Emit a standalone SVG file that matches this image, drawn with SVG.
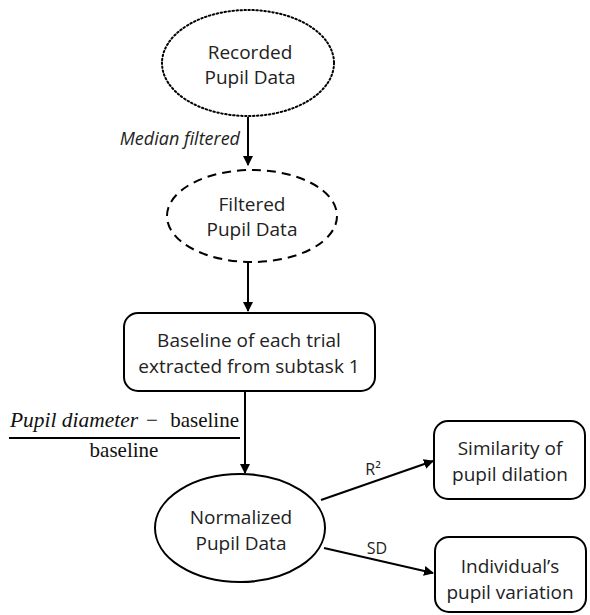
<svg xmlns="http://www.w3.org/2000/svg" width="590" height="615" viewBox="0 0 590 615">
<style>
.n{fill:#fff;stroke:#000;stroke-width:2}
.t{font-family:"Open Sans","Liberation Sans",Arial,sans-serif;font-size:19px;fill:#222;text-anchor:middle}
.c{stroke:#000;stroke-width:2;fill:none}
.l{font-family:"Open Sans","Liberation Sans",Arial,sans-serif;font-size:16px;fill:#222}
.m{font-family:"Liberation Serif","Times New Roman",serif;font-size:21px;fill:#111}
</style>
<defs>
<marker id="ah" viewBox="0 0 10 10" refX="9" refY="5" markerWidth="5" markerHeight="5" orient="auto-start-reverse">
<path d="M0,0 L10,5 L0,10 z" fill="#000"/>
</marker>
</defs>
<rect width="590" height="615" fill="#fff"/>
<g id="connectors">
<line class="c" x1="248" y1="117" x2="248" y2="165" marker-end="url(#ah)"/>
<text class="l" x="240" y="145" text-anchor="end" style="font-style:italic;font-size:18px">Median filtered</text>
<line class="c" x1="248" y1="262" x2="248" y2="311" marker-end="url(#ah)"/>
<line class="c" x1="245" y1="391" x2="245" y2="473" marker-end="url(#ah)"/>
<text class="m" x="10" y="427" font-style="italic" textLength="128" lengthAdjust="spacingAndGlyphs">Pupil diameter</text>
<text class="m" x="146" y="427">−</text>
<text class="m" x="239" y="427" text-anchor="end">baseline</text>
<line x1="9" y1="438" x2="240" y2="438" stroke="#000" stroke-width="2"/>
<text class="m" x="124" y="457" text-anchor="middle">baseline</text>
<line class="c" x1="321" y1="500" x2="433" y2="461" marker-end="url(#ah)"/>
<text class="l" x="373" y="475" text-anchor="middle">R²</text>
<line class="c" x1="324" y1="548" x2="433" y2="573" marker-end="url(#ah)"/>
<text class="l" x="377" y="554" text-anchor="middle">SD</text>
</g>
<g id="recorded">
<ellipse class="n" cx="248" cy="63" rx="86" ry="53" stroke-dasharray="1.5 2.5" stroke-linecap="round" stroke-width="2.5"/>
<text class="t" x="250" y="59">Recorded</text>
<text class="t" x="250" y="84">Pupil Data</text>
</g>
<g id="filtered">
<ellipse class="n" cx="252" cy="216" rx="85" ry="46" stroke-dasharray="9 6"/>
<text class="t" x="252" y="211">Filtered</text>
<text class="t" x="252" y="236">Pupil Data</text>
</g>
<g id="baseline">
<rect class="n" x="124" y="313" width="251" height="78" rx="14"/>
<text class="t" x="249" y="347">Baseline of each trial</text>
<text class="t" x="249" y="373">extracted from subtask 1</text>
</g>
<g id="normalized">
<ellipse class="n" cx="240" cy="528" rx="85" ry="54"/>
<text class="t" x="241" y="524">Normalized</text>
<text class="t" x="241" y="550">Pupil Data</text>
</g>
<g id="similarity">
<rect class="n" x="434" y="421" width="151" height="78" rx="14"/>
<text class="t" x="510" y="455">Similarity of</text>
<text class="t" x="510" y="481">pupil dilation</text>
</g>
<g id="individual">
<rect class="n" x="435" y="537" width="151" height="75" rx="14"/>
<text class="t" x="510" y="573">Individual’s</text>
<text class="t" x="510" y="599">pupil variation</text>
</g>
</svg>
